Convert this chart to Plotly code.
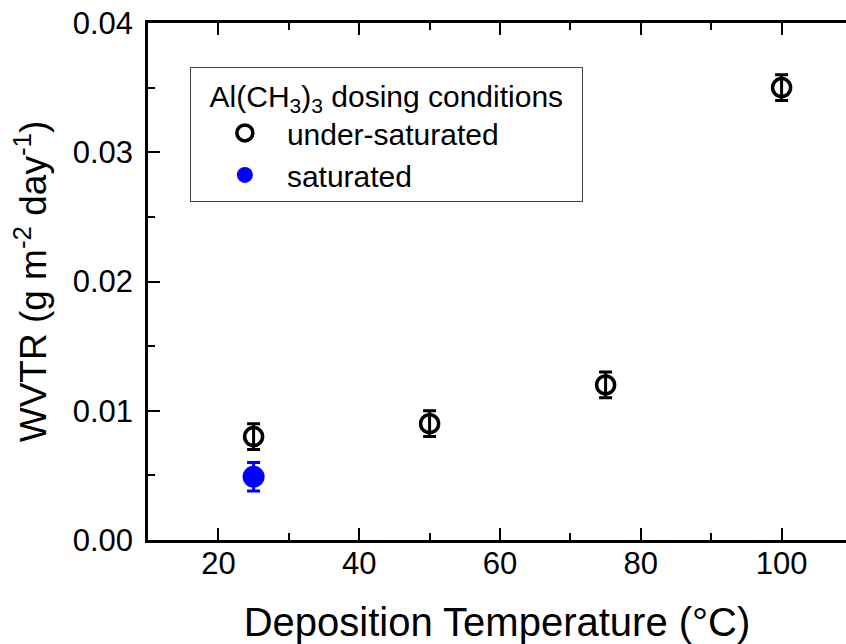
import plotly.graph_objects as go

# data
temps_under = [25, 50, 75, 100]
wvtr_under = [0.0080, 0.0090, 0.0120, 0.0350]
err_under = [0.0010, 0.0010, 0.0010, 0.0010]

temps_sat = [25]
wvtr_sat = [0.0049]
err_sat = [0.0011]

x_ticks = [20, 40, 60, 80, 100]
y_ticks = [0.00, 0.01, 0.02, 0.03, 0.04]

FONT = "Liberation Sans, Arial, sans-serif"

fig = go.Figure()
fig.add_trace(go.Scatter(
    x=temps_under, y=wvtr_under, mode="markers", name="under-saturated",
    marker=dict(symbol="circle-open", size=18, color="black", line=dict(width=3.5, color="black")),
    error_y=dict(type="data", array=err_under, visible=True, color="black", thickness=3, width=6.5),
))
fig.add_trace(go.Scatter(
    x=temps_sat, y=wvtr_sat, mode="markers", name="saturated",
    marker=dict(symbol="circle", size=22, color="#0000ff"),
    error_y=dict(type="data", array=err_sat, visible=True, color="#0000ff", thickness=3, width=6.5),
))

axis_common = dict(
    showline=True, linecolor="black", linewidth=2.5,
    ticks="inside", ticklen=12, tickwidth=2, tickcolor="black",
    showgrid=False, zeroline=False, automargin=False,
    tickfont=dict(family=FONT, size=31, color="black"),
)

fig.update_layout(
    width=846, height=644,
    margin=dict(l=148, r=0, t=23, b=104),
    plot_bgcolor="white", paper_bgcolor="white",
    font=dict(family=FONT, color="black"),
    xaxis=dict(
        range=[10, 109.15], tickvals=x_ticks, mirror="ticks",
        ticklabelstandoff=-6,
        minor=dict(dtick=10, tick0=0, ticks="inside", ticklen=7, tickwidth=2, tickcolor="black"),
        title=dict(text="Deposition Temperature (°C)", font=dict(family=FONT, size=40, color="black"), standoff=29),
        **axis_common,
    ),
    yaxis=dict(
        range=[0, 0.04], tickvals=y_ticks, tickformat=".2f",
        ticklabelstandoff=6,
        minor=dict(dtick=0.005, tick0=0, ticks="inside", ticklen=7, tickwidth=2, tickcolor="black"),
        title=dict(text="WVTR (g m<sup>-2</sup> day<sup>-1</sup>)", font=dict(family=FONT, size=37, color="black"), standoff=15),
        **axis_common,
    ),
    showlegend=True,
    legend=dict(
        x=0.06, y=0.915, xanchor="left", yanchor="top",
        bgcolor="white", bordercolor="#444444", borderwidth=1,
        font=dict(family=FONT, size=30, color="black"),
        title=dict(text="\u00a0\u00a0Al(CH<sub>3</sub>)<sub>3</sub> dosing conditions\u00a0\u00a0", font=dict(family=FONT, size=30, color="black")),
        indentation=12,
        itemwidth=74,
        tracegroupgap=0,
    ),
)

fig.write_html("out.html", config={"displayModeBar": False},
               post_script="document.body.style.margin='0';document.body.style.overflow='hidden';")
